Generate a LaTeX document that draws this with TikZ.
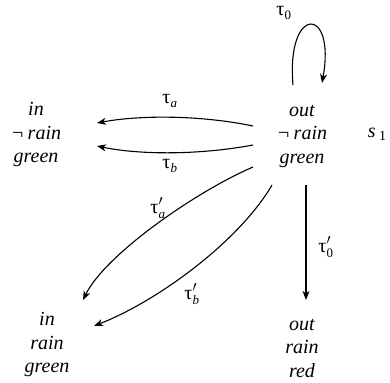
\documentclass[tikz,border=0pt]{standalone}
\usepackage{fontspec}
\setmainfont{Liberation Serif}
\usetikzlibrary{arrows.meta,calc}
\newcommand\lsub[1]{\mbox{\fontsize{13}{13}\selectfont\itshape #1}}
\newcommand\rsub[1]{\mbox{\fontsize{13}{13}\selectfont #1}}
\begin{document}
\begin{tikzpicture}[x=1pt,y=-1pt,
  state/.style={font=\fontsize{20}{23.5}\selectfont\itshape, align=center, inner sep=0pt},
  lab/.style={font=\fontsize{20}{24}\selectfont, inner sep=0pt},
  arr/.style={line width=1.1pt, -{Stealth[length=9pt,width=7pt,inset=2.5pt]}}]
\useasboundingbox (0,0) rectangle (390,382);
\node[state] (s1) at (302,136) {out\\¬\,rain\\green};
\node[state] (n1) at (36,135) {in\\¬\,rain\\green};
\node[state] (n2) at (47,345) {in\\rain\\green};
\node[state] (n3) at (302,348) {out\\rain\\red};
\node[lab] (sname) at (377,134) {\textit{s}\,\raisebox{-0.35ex}{\fontsize{14}{14}\selectfont 1}};
% loop
\draw[arr] ($(s1)+(-9,-51)$) .. controls (286,5) and (336,5) .. ($(s1)+(20,-53)$);
\node[lab] (l0) at (284,13) {$\mbox{τ}_{\rsub{0}}$};
% tau_a, tau_b
\draw[arr] ($(s1)+(-49,-10)$) .. controls (200,115) and (140,115) .. ($(n1)+(61,-12)$);
\draw[arr] ($(s1)+(-49,9)$) .. controls (200,155) and (140,155) .. ($(n1)+(61,11)$);
\node[lab] (la) at (170,101) {$\mbox{τ}_{\lsub{a}}$};
\node[lab] (lb) at (170,166) {$\mbox{τ}_{\lsub{b}}$};
% tau'_a, tau'_b
\draw[arr] ($(s1)+(-49,31)$) .. controls (195,192) and (105,255) .. ($(n2)+(36,-45)$);
\draw[arr] ($(s1)+(-30,49)$) .. controls (240,240) and (160,300) .. ($(n2)+(47,-19)$);
\node[lab] (lap) at (158,208) {$\mbox{τ}'_{\lsub{a}}$};
\node[lab] (lbp) at (192,294) {$\mbox{τ}'_{\lsub{b}}$};
% tau'_0
\draw[arr] ($(s1)+(4,49)$) -- ($(n3)+(4,-48)$);
\node[lab] (l0p) at (326,247) {$\mbox{τ}'_{\rsub{0}}$};
\end{tikzpicture}
\end{document}
